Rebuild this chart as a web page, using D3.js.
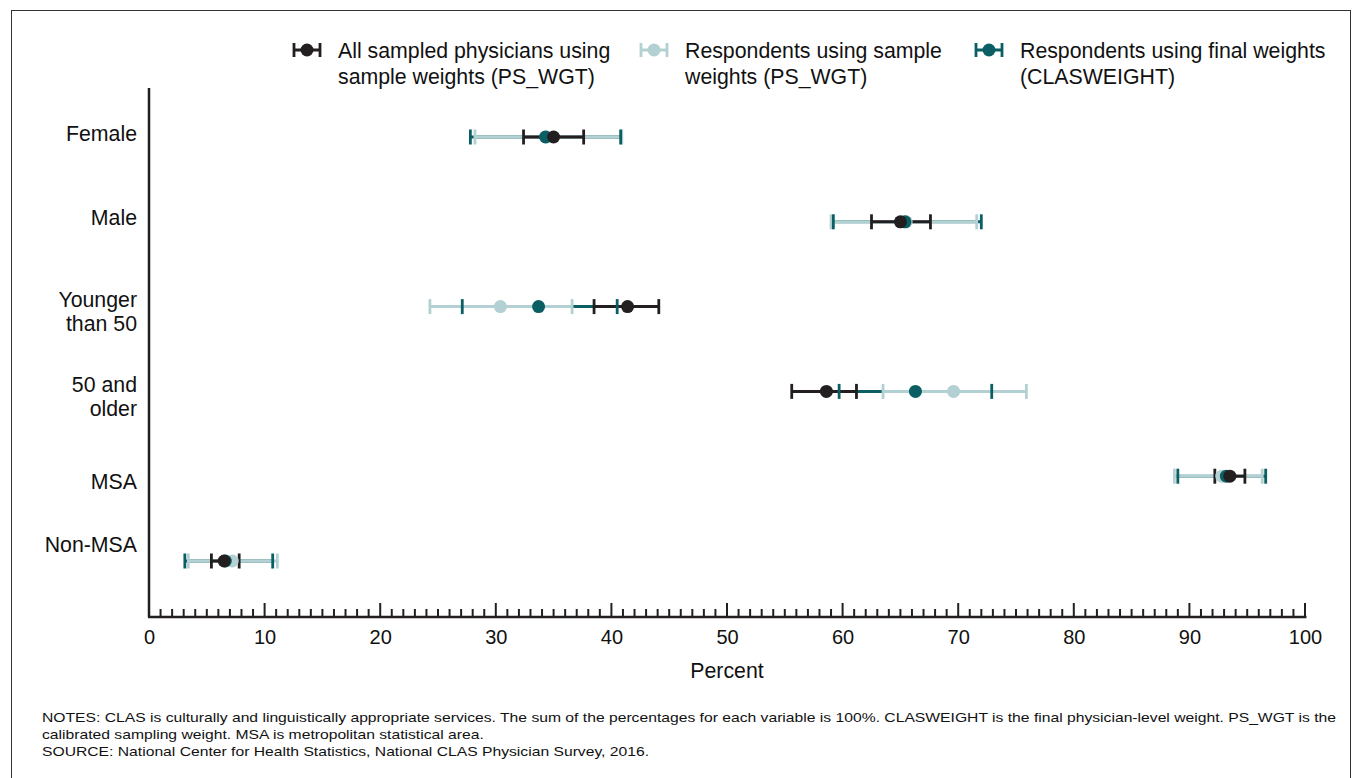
<!DOCTYPE html>
<html>
<head>
<meta charset="utf-8">
<script src="https://cdn.jsdelivr.net/npm/d3@7"></script>
<style>
  html, body { margin: 0; padding: 0; background: #fff; }
  svg { display: block; font-family: "Liberation Sans", Arial, sans-serif; }
</style>
</head>
<body>
<svg id="chart" width="1353" height="778"></svg>
<script>
// ---- data ----
const categories = ["Female", "Male", "Younger than 50", "50 and older", "MSA", "Non-MSA"];
const categoryLabelLines = [["Female"], ["Male"], ["Younger", "than 50"], ["50 and", "older"], ["MSA"], ["Non-MSA"]];

const allSampledEst  = [35.0, 65.0, 41.4, 58.6, 93.5, 6.5];
const allSampledLow  = [32.4, 62.5, 38.5, 55.6, 92.2, 5.4];
const allSampledHigh = [37.6, 67.6, 44.1, 61.2, 94.8, 7.8];

const respSampleEst  = [34.4, 65.5, 30.4, 69.6, 92.8, 7.2];
const respSampleLow  = [28.2, 59.0, 24.3, 63.5, 88.7, 3.4];
const respSampleHigh = [40.9, 71.6, 36.6, 75.9, 96.3, 11.1];

const respFinalEst  = [34.3, 65.4, 33.7, 66.3, 93.2, 6.6];
const respFinalLow  = [27.8, 59.2, 27.1, 59.7, 89.0, 3.1];
const respFinalHigh = [40.8, 72.0, 40.5, 72.9, 96.6, 10.7];

const seriesNames = [
  ["All sampled physicians using", "sample weights (PS_WGT)"],
  ["Respondents using sample", "weights (PS_WGT)"],
  ["Respondents using final weights", "(CLASWEIGHT)"]
];
const xTickValues = [0, 10, 20, 30, 40, 50, 60, 70, 80, 90, 100];
const xTitle = "Percent";
const notes = [
  "NOTES: CLAS is culturally and linguistically appropriate services. The sum of the percentages for each variable is 100%. CLASWEIGHT is the final physician-level weight. PS_WGT is the",
  "calibrated sampling weight. MSA is metropolitan statistical area.",
  "SOURCE: National Center for Health Statistics, National CLAS Physician Survey, 2016."
];

// ---- styles ----
const colBlack = "#231f20", colLight = "#b3d1d2", colTeal = "#0b5f64";
const series = [
  { name: seriesNames[0], est: allSampledEst, low: allSampledLow, high: allSampledHigh, color: colBlack },
  { name: seriesNames[1], est: respSampleEst, low: respSampleLow, high: respSampleHigh, color: colLight },
  { name: seriesNames[2], est: respFinalEst, low: respFinalLow, high: respFinalHigh, color: colTeal }
];
const fs = 21.3;

const svg = d3.select("#chart");
svg.append("rect").attr("x", 11.5).attr("y", 10.5).attr("width", 1339).attr("height", 775)
  .attr("fill", "none").attr("stroke", "#333").attr("stroke-width", 1);

const x = d3.scaleLinear().domain([0, 100]).range([149, 1305]);
const y = d3.scalePoint().domain(categories).range([137, 561]);
const axisY = 617;

// y axis line
svg.append("line").attr("x1", 149).attr("x2", 149).attr("y1", 88).attr("y2", axisY)
  .attr("stroke", colBlack).attr("stroke-width", 2.5);

// x axis
const xAxis = d3.axisBottom(x).tickValues(xTickValues).tickSize(0).tickPadding(13);
const gx = svg.append("g").attr("transform", `translate(0,${axisY})`).call(xAxis);
gx.select(".domain").remove();
gx.selectAll("text").attr("font-size", 20).attr("fill", "#111").attr("font-family", "Liberation Sans, Arial, sans-serif");
svg.append("line").attr("x1", 148).attr("x2", 1306.5).attr("y1", axisY).attr("y2", axisY)
  .attr("stroke", colBlack).attr("stroke-width", 2.5);
// inward ticks
svg.append("g").selectAll("line").data(d3.range(0, 101, 1)).join("line")
  .attr("x1", d => x(d)).attr("x2", d => x(d))
  .attr("y1", axisY).attr("y2", d => axisY - (d % 10 === 0 ? 14 : 8))
  .attr("stroke", colBlack).attr("stroke-width", 2);

svg.append("text").attr("x", x(50)).attr("y", 678).attr("text-anchor", "middle")
  .attr("font-size", fs).attr("fill", "#111").text(xTitle);

// category labels
const lab = svg.append("g");
categories.forEach((c, i) => {
  const lines = categoryLabelLines[i];
  const lh = 24.5;
  const off = (i === 5) ? -17 : (i >= 2 ? 5 : -4);
  const t = lab.append("text").attr("text-anchor", "end").attr("font-size", fs).attr("fill", "#111");
  lines.forEach((ln, j) => {
    t.append("tspan").attr("x", 137)
      .attr("y", y(c) + off + (j - (lines.length - 1) / 2) * lh + 7.5).text(ln);
  });
});

// error bars
const capH = 15, capW = 2.8, lineW = 3, r = 6.5;
const plot = svg.append("g");
const lineOrder = [2, 1, 0];
const capOrder = [1, 2, 0];
lineOrder.forEach(si => {
  const s = series[si];
  plot.append("g").selectAll("line").data(categories).join("line")
    .attr("x1", (d, i) => x(s.low[i])).attr("x2", (d, i) => x(s.high[i]))
    .attr("y1", d => y(d)).attr("y2", d => y(d))
    .attr("stroke", s.color).attr("stroke-width", lineW);
});
capOrder.forEach(si => {
  const s = series[si];
  const g = plot.append("g");
  ["low", "high"].forEach(k => {
    g.selectAll("line." + k).data(categories).join("line").attr("class", k)
      .attr("x1", (d, i) => x(s[k][i])).attr("x2", (d, i) => x(s[k][i]))
      .attr("y1", d => y(d) - capH / 2).attr("y2", d => y(d) + capH / 2)
      .attr("stroke", s.color).attr("stroke-width", capW);
  });
});
capOrder.forEach(si => {
  const s = series[si];
  plot.append("g").selectAll("circle").data(categories).join("circle")
    .attr("cx", (d, i) => x(s.est[i])).attr("cy", d => y(d)).attr("r", r)
    .attr("fill", s.color);
});

// legend
const legendX = [294, 641, 976];
series.forEach((s, i) => {
  const g = svg.append("g").attr("transform", `translate(${legendX[i]},50)`);
  g.append("line").attr("x1", 0).attr("x2", 26).attr("y1", 0).attr("y2", 0).attr("stroke", s.color).attr("stroke-width", lineW);
  [0, 26].forEach(cx => g.append("line").attr("x1", cx).attr("x2", cx).attr("y1", -7).attr("y2", 7).attr("stroke", s.color).attr("stroke-width", capW));
  g.append("circle").attr("cx", 13).attr("cy", 0).attr("r", r).attr("fill", s.color);
  const t = g.append("text").attr("font-size", fs).attr("fill", "#111");
  s.name.forEach((ln, j) => t.append("tspan").attr("x", 44).attr("y", 7.5 + j * 26).text(ln));
});

// notes
const nt = svg.append("g").attr("transform", "translate(42,0) scale(1.245,1)");
notes.forEach((n, i) => {
  nt.append("text").attr("x", 0).attr("y", 722 + i * 17).attr("font-size", 12.6).attr("fill", "#111").text(n);
});
</script>
</body>
</html>
